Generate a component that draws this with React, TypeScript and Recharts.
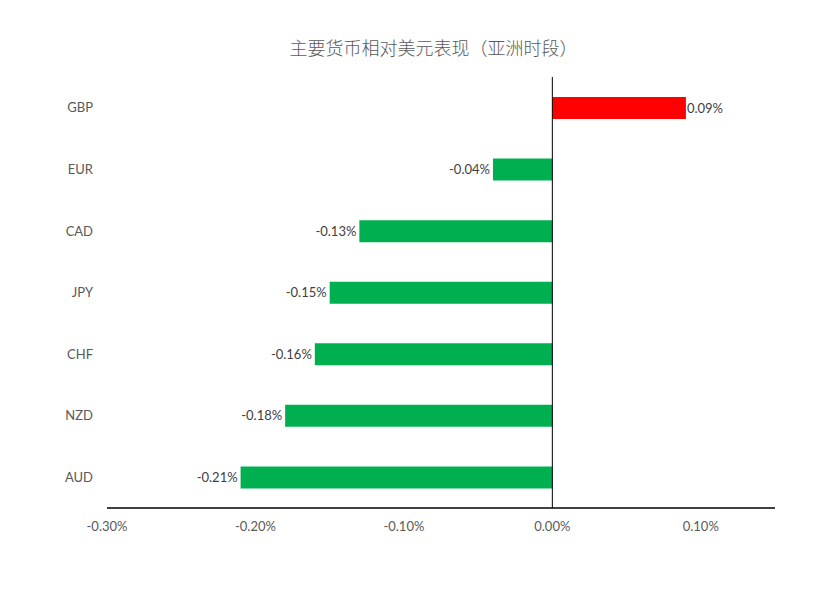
import React from 'react';
import { BarChart, Bar, XAxis, YAxis, Cell, LabelList, ReferenceLine } from 'recharts';

const currencies = ['GBP', 'EUR', 'CAD', 'JPY', 'CHF', 'NZD', 'AUD'];
const changes = [0.09, -0.04, -0.13, -0.15, -0.16, -0.18, -0.21];
const xTicks = [-0.3, -0.2, -0.1, 0, 0.1];

const data = currencies.map((name, i) => ({ name, value: changes[i] }));

const FONT = 'Lato, "Noto Sans", sans-serif';

const pct = (v: number) => `${v.toFixed(2)}%`;

const ValueLabel = (props: any) => {
  const { x, y, width, height, value } = props;
  const left = Math.min(x, x + width);
  const right = Math.max(x, x + width);
  const cy = y + height / 2;
  const neg = value < 0;
  return (
    <text
      x={neg ? left - 3 : right + 1}
      y={cy}
      dy="0.35em"
      textAnchor={neg ? 'end' : 'start'}
      fontSize={13}
      fontFamily={FONT}
      fill="#404040"
    >
      {pct(value)}
    </text>
  );
};

export default function App() {
  return (
    <div style={{ position: 'absolute', left: 0, top: 0, width: 827, height: 597, background: '#fff' }}>
      <div
        style={{
          position: 'absolute',
          left: 40,
          width: 787,
          top: 34,
          textAlign: 'center',
          fontFamily: '"Noto Sans CJK SC", sans-serif',
          fontSize: 18,
          fontWeight: 300,
          color: '#595959',
        }}
      >
        主要货币相对美元表现（亚洲时段）
      </div>
      <BarChart
        width={827}
        height={597}
        data={data}
        layout="vertical"
        margin={{ top: 77, right: 52, bottom: 59, left: 0 }}
      >
        <XAxis
          type="number"
          domain={[-0.3, 0.15]}
          ticks={xTicks}
          tickFormatter={pct}
          axisLine={{ stroke: '#000', strokeWidth: 1.3 }}
          tickLine={false}
          tickSize={0}
          tickMargin={14}
          tick={{ fontSize: 13, fill: '#595959', fontFamily: FONT }}
          allowDataOverflow
        />
        <YAxis
          type="category"
          dataKey="name"
          width={107}
          axisLine={false}
          tickLine={false}
          tickSize={0}
          tickMargin={14}
          tick={{ fontSize: 13, fill: '#595959', fontFamily: FONT }}
        />
        <ReferenceLine x={0} stroke="#000" strokeWidth={1} />
        <Bar dataKey="value" barSize={22} isAnimationActive={false}>
          {data.map((d) => (
            <Cell key={d.name} fill={d.value > 0 ? '#FF0000' : '#00B050'} />
          ))}
          <LabelList dataKey="value" content={ValueLabel} />
        </Bar>
      </BarChart>
    </div>
  );
}
